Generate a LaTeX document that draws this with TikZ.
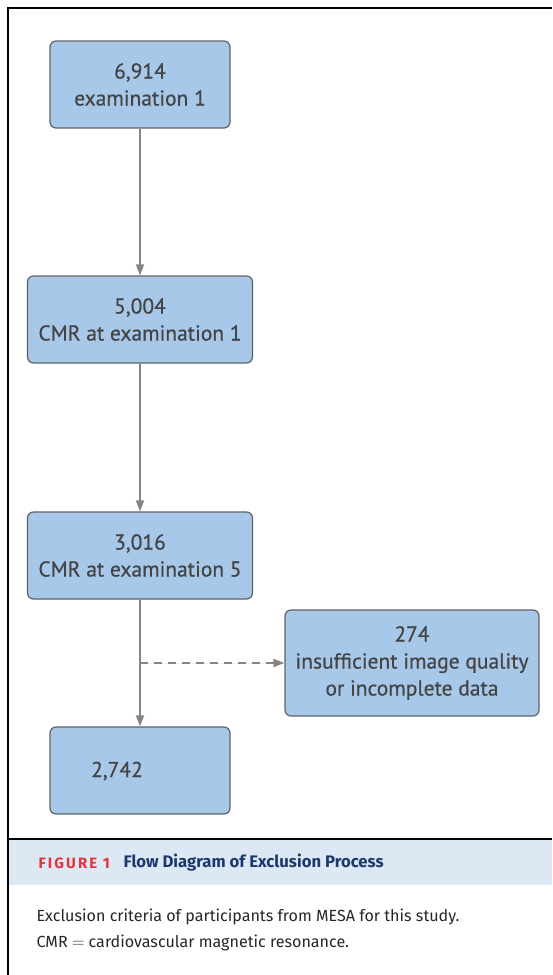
\documentclass[tikz,border=0pt]{standalone}
\usepackage{fontspec}
\setmainfont{Fira Sans}
\newfontfamily\boxfont[FakeBold=0.5]{PT Sans}
\usetikzlibrary{arrows.meta, positioning, calc}

\definecolor{boxblue}{HTML}{A7C8E8}
\definecolor{boxline}{HTML}{5F6266}
\definecolor{boxtext}{HTML}{444444}
\definecolor{arrowgray}{HTML}{858585}
\definecolor{bandblue}{HTML}{DDE8F5}
\definecolor{figred}{HTML}{E5323B}
\definecolor{fignavy}{HTML}{1B3A6B}

\begin{document}
\begin{tikzpicture}[
        x=1pt, y=-1pt,
        flowbox/.style={rectangle, rounded corners=6pt, draw=boxline, line width=1.2pt, fill=boxblue, inner sep=0pt, minimum width=180pt, minimum height=87pt, align=center, text=boxtext, font=\boxfont\fontsize{21.5}{27}\selectfont},
        widebox/.style={flowbox, minimum width=225pt},
        flow/.style={-{Triangle[length=11pt, width=8pt]}, draw=arrowgray, fill=arrowgray, line width=1.8pt},
        exclude/.style={flow, dashed, dash pattern=on 8pt off 6pt}
    ]
        \useasboundingbox (0,0) rectangle (552,975);

        % Frame and caption band
        \fill[bandblue] (9,839) rectangle (552,885);
        \draw[line width=2pt] (8,975) -- (8,8) -- (552,8);
        \draw[line width=2pt] (8,839) -- (552,839);
        \node[anchor=west, text=figred, font=\fontsize{15}{17}\selectfont\bfseries\addfontfeatures{LetterSpace=14}] (figlabel) at (35,863) {FIGURE 1};
        \node[anchor=west, text=fignavy, font=\fontsize{16.7}{19}\selectfont\bfseries] (figtitle) at (120,863) {Flow Diagram of Exclusion Process};
        \node[anchor=west, align=left, text=black!85, font=\fontsize{16.1}{26}\selectfont] (figcaption) at (33,930) {Exclusion criteria of participants from MESA for this study.\\CMR $=$ cardiovascular magnetic resonance.};

        % Flow boxes
        \node[flowbox] (exam1) at (140,84.5) {6,914\\examination 1};
        \node[widebox] (cmr1) at (140,319.5) {5,004\\CMR at examination 1};
        \node[widebox] (cmr5) at (140,555.5) {3,016\\CMR at examination 5};
        \node[flowbox] (final) at (140,770.5) {};
        \node[text=boxtext, font=\boxfont\fontsize{21.5}{27}\selectfont] (finaltext) at (117,771) {2,742};
        \node[flowbox, minimum width=254pt, minimum height=106pt] (excluded) at (412,663) {274\\insufficient image quality\\or incomplete data};

        % Connectors
        \draw[flow] (exam1) -- (cmr1);
        \draw[flow] (cmr1) -- (cmr5);
        \draw[flow] (cmr5) -- (final);
        \coordinate (split) at (final.north |- excluded.west);
        \draw[exclude] (split) -- (excluded.west);
    \end{tikzpicture}
\end{document}
